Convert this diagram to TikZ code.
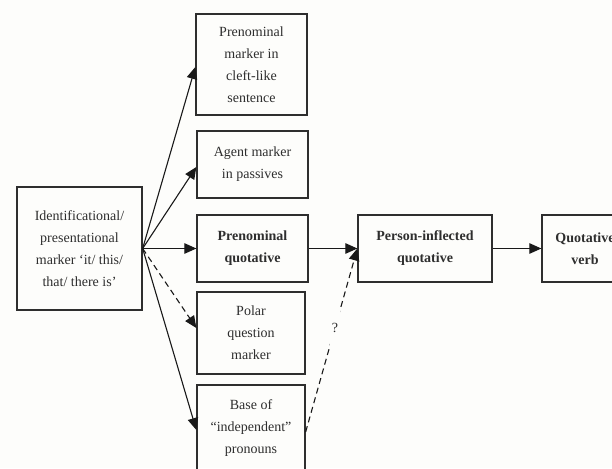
\documentclass[tikz,border=0pt]{standalone}
\usepackage{fontspec}
\setmainfont{Liberation Serif}
\usetikzlibrary{arrows.meta}
\definecolor{ink}{HTML}{2E2E2E}
\definecolor{paper}{HTML}{FDFDFB}
\tikzset{
  box/.style={draw=ink, line width=1.3pt, text=ink, align=center,
    inner sep=0pt, font=\fontsize{14}{22}\selectfont},
  arr/.style={draw=black!90, line width=1.1pt,
    -{Triangle[length=12pt,width=10.5pt]}},
  dasharr/.style={arr, dash pattern=on 6pt off 4pt},
  qmark/.style={fill=paper, text=ink, inner sep=0pt, minimum width=10pt,
    minimum height=48pt, font=\fontsize{14}{22}\selectfont},
}
\begin{document}
\begin{tikzpicture}[x=1pt,y=-1pt]
  \useasboundingbox[fill=paper] (0,0) rectangle (612,468);
  \begin{scope}
    \clip (0,0) rectangle (612,468);
    % source of the grammaticalization paths
    \node[box, minimum width=125pt, minimum height=123pt] (src) at (79.5,248.5)
      {Identificational/\\presentational\\marker `it/ this/\\that/ there is'};
    % targets
    \node[box, minimum width=111pt, minimum height=101pt] (cleft) at (251.5,64.5)
      {Prenominal\\marker in\\cleft-like\\sentence};
    \node[box, minimum width=111pt, minimum height=67pt] (agent) at (252.5,164.5)
      {Agent marker\\in passives};
    \node[box, minimum width=111pt, minimum height=67pt] (preq) at (252.5,248.5)
      {\bfseries Prenominal\\\bfseries quotative};
    \node[box, minimum width=108pt, minimum height=82pt] (polar) at (251,333)
      {Polar\\question\\marker};
    \node[box, minimum width=108pt, minimum height=86pt] (base) at (251,428)
      {Base of\\``independent''\\pronouns};
    \node[box, minimum width=134pt, minimum height=67pt] (pers) at (425,248.5)
      {\bfseries Person-inflected\\\bfseries quotative};
    \node[box, minimum width=86pt, minimum height=67pt] (qverb) at (585,248.5)
      {\bfseries Quotative\\\bfseries verb};

    % connectors
    \draw[arr] (src.east) -- (cleft.west |- 0,67);
    \draw[arr] (src.east) -- (agent.west |- 0,167);
    \draw[arr] (src.east) -- (preq.west);
    \draw[dasharr] (src.east) -- (polar.west |- 0,328);
    \draw[arr] (src.east) -- (base.west |- 0,430);
    \draw[arr] (preq.east) -- (pers.west);
    \draw[dasharr] (base.east |- 0,432) -- (pers.west);
    \draw[arr] (pers.east) -- (qverb.west);
    % uncertain link, labelled in a gap of the dashed line
    \node[qmark] (q) at (335,328) {?};
  \end{scope}
\end{tikzpicture}
\end{document}
